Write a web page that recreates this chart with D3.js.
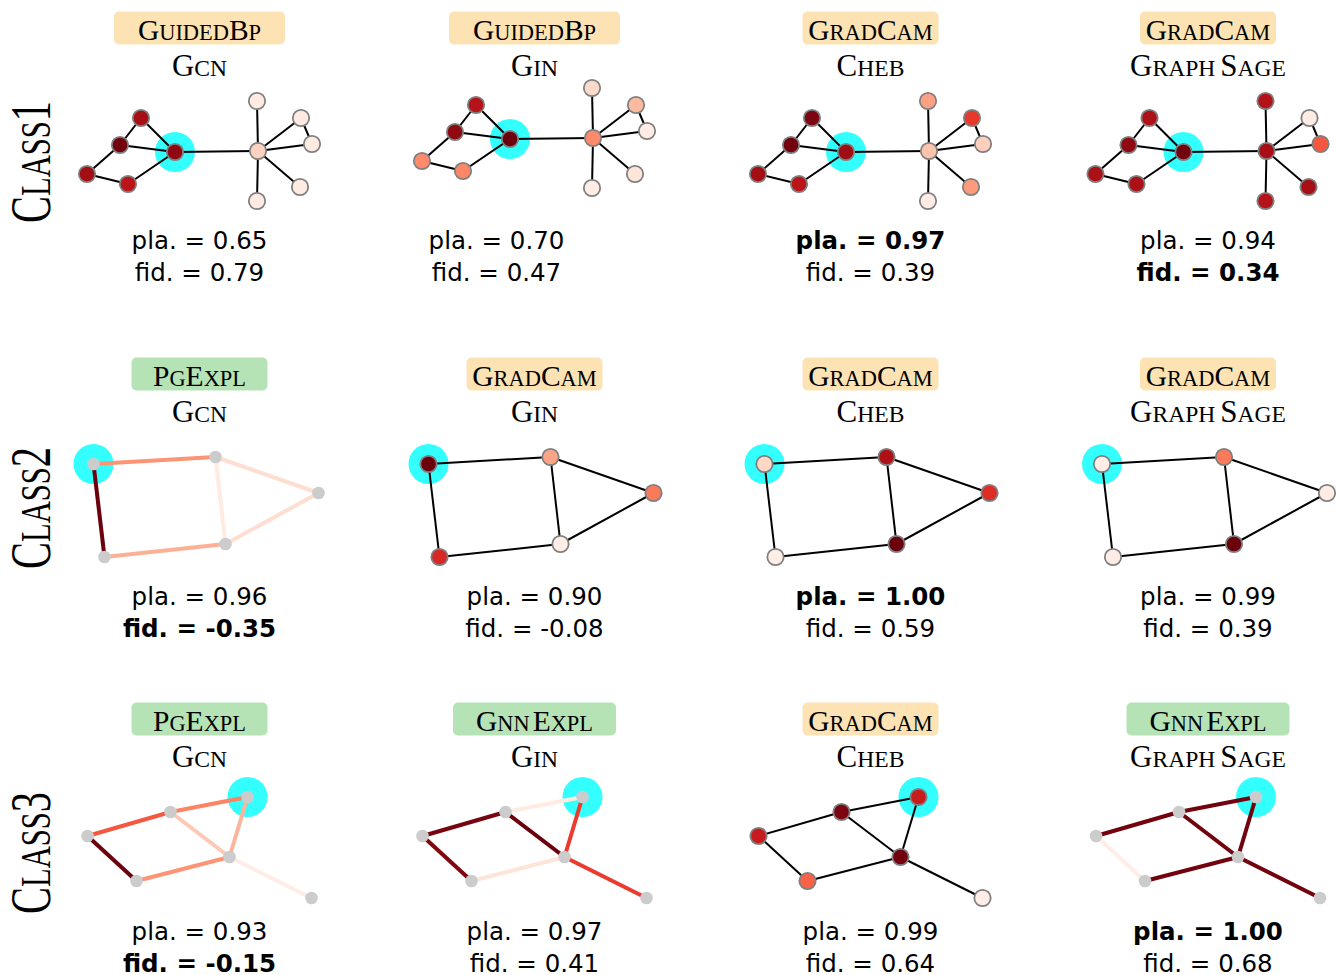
<!DOCTYPE html>
<html lang="en">
<head>
<meta charset="UTF-8">
<title>Explanations per class</title>
<script src="https://cdn.jsdelivr.net/npm/d3@7"></script>
<style>
  body { margin: 0; background: #fff; }
</style>
</head>
<body>
<svg id="chart"></svg>
<script>
var width = 1337, height = 975;

// grid labels
var classNames = ["Class1", "Class2", "Class3"];
var modelNames = ["Gcn", "Gin", "Cheb", "GraphSage"];
var explainers = [
  ["GuidedBp", "GuidedBp", "GradCam", "GradCam"],
  ["PgExpl", "GradCam", "GradCam", "GradCam"],
  ["PgExpl", "GnnExpl", "GradCam", "GnnExpl"]
];
var plausibility = [
  [0.65, 0.70, 0.97, 0.94],
  [0.96, 0.90, 1.00, 0.99],
  [0.93, 0.97, 0.99, 1.00]
];
var fidelity = [
  [0.79, 0.47, 0.39, 0.34],
  [-0.35, -0.08, 0.59, 0.39],
  [-0.15, 0.41, 0.64, 0.68]
];

// class 1 graph (layout units)
var class1Nodes = ["a", "b", "c", "d", "e", "h", "t", "r1", "r2", "r3", "u"];
var class1X = [88, 54, 33, 0, 41, 171, 170, 214, 225, 213, 170];
var class1Y = [51, 17, 44, 73, 83, 50, 0, 17, 43, 86, 100];
var class1Edges = [["b", "a"], ["b", "c"], ["c", "a"], ["c", "d"], ["d", "e"], ["e", "a"],
  ["a", "h"], ["h", "t"], ["h", "r1"], ["h", "r2"], ["r1", "r2"], ["h", "r3"], ["h", "u"]];
var class1Target = "a";
var class1NodeMask = [
  [0.92, 0.86, 0.98, 0.87, 0.80, 0.17, 0.06, 0.06, 0.06, 0.06, 0.06],
  [0.99, 0.82, 0.92, 0.40, 0.41, 0.40, 0.14, 0.25, 0.05, 0.09, 0.05],
  [0.88, 0.96, 0.98, 0.87, 0.80, 0.22, 0.33, 0.64, 0.18, 0.35, 0.05],
  [0.98, 0.84, 0.92, 0.85, 0.85, 0.86, 0.83, 0.05, 0.55, 0.86, 0.82]
];
var class1EdgeMask = [null, null, null, null];

// class 2 graph
var class2Nodes = ["p1", "p2", "p3", "p4", "p5"];
var class2X = [0, 122, 225, 132, 11];
var class2Y = [7, 0, 36, 87, 100];
var class2Edges = [["p1", "p2"], ["p1", "p5"], ["p2", "p4"], ["p2", "p3"], ["p3", "p4"], ["p4", "p5"]];
var class2Target = "p1";
var class2NodeMask = [
  null,
  [0.99, 0.32, 0.45, 0.04, 0.70],
  [0.15, 0.84, 0.68, 0.99, 0.04],
  [0.04, 0.45, 0.05, 0.99, 0.05]
];
var class2EdgeMask = [
  [0.37, 0.99, 0.06, 0.12, 0.12, 0.28],
  null, null, null
];

// class 3 graph
var class3Nodes = ["q1", "q2", "q3", "q4", "q5", "q6"];
var class3X = [160, 83, 0, 49, 142, 224];
var class3Y = [0, 15, 39, 84, 60, 101];
var class3Edges = [["q3", "q2"], ["q2", "q1"], ["q1", "q5"], ["q2", "q5"], ["q3", "q4"], ["q4", "q5"], ["q5", "q6"]];
var class3Target = "q1";
var class3NodeMask = [null, null, [0.76, 0.96, 0.76, 0.52, 0.98, 0.04], null];
var class3EdgeMask = [
  [0.55, 0.42, 0.27, 0.20, 0.99, 0.37, 0.05],
  [0.97, 0.06, 0.63, 0.99, 0.95, 0.09, 0.63],
  null,
  [0.98, 0.98, 0.98, 0.98, 0.04, 0.98, 0.98]
];

var graphs = [
  {nodes: class1Nodes, x: class1X, y: class1Y, edges: class1Edges, target: class1Target, nodeMask: class1NodeMask, edgeMask: class1EdgeMask},
  {nodes: class2Nodes, x: class2X, y: class2Y, edges: class2Edges, target: class2Target, nodeMask: class2NodeMask, edgeMask: class2EdgeMask},
  {nodes: class3Nodes, x: class3X, y: class3Y, edges: class3Edges, target: class3Target, nodeMask: class3NodeMask, edgeMask: class3EdgeMask}
];

// layout
var colCenter = [199.5, 534.5, 870.5, 1208];
var rowTop = [0, 346, 691];
var graphDx = [0, 6.5, 0.5];
var graphDy = [101, 111, 106];
var plaBase = [249, 259, 249];
var lineGap = 32;
var boxColor = {GuidedBp: "#fde3b3", GradCam: "#fde3b3", PgExpl: "#b6e3b6", GnnExpl: "#b6e3b6"};
var boxWidth = {GuidedBp: 171, GradCam: 136, PgExpl: 136, GnnExpl: 163};
var capsGap = {GraphSage: 5, GnnExpl: 3};

var serif = "'Liberation Serif', 'Times New Roman', serif";
var sans = "'DejaVu Sans', sans-serif";
var color = d3.scaleSequential(d3.interpolateReds).domain([0, 1]);

var svg = d3.select("#chart").attr("width", width).attr("height", height);

// small caps: lower-case runs drawn as reduced capitals
function smallCaps(text, str, size, ratio) {
  var runs = str.match(/[a-z]+|[^a-z]+/g);
  runs.forEach(function (run, i) {
    var lower = /[a-z]/.test(run[0]);
    var t = text.append("tspan")
      .attr("font-size", lower ? size * ratio : size)
      .text(run.toUpperCase());
    if (!lower && i > 0 && capsGap[str]) t.attr("dx", capsGap[str]);
  });
}

// row labels
classNames.forEach(function (name, r) {
  var t = svg.append("text")
    .attr("transform", "translate(50," + (rowTop[r] + 162) + ") rotate(-90) scale(0.72,1)")
    .attr("text-anchor", "middle")
    .attr("font-family", serif);
  smallCaps(t, name, 56, 0.76);
});

var bestPla = plausibility.map(function (row) { return d3.max(row); });
var bestFid = fidelity.map(function (row) { return d3.min(row); });

graphs.forEach(function (g, r) {
  modelNames.forEach(function (model, c) {
    var cx = colCenter[c];
    var top = rowTop[r];
    var method = explainers[r][c];
    var shiftY = (r === 0 && c === 1) ? -13 : 0;
    var textX = (r === 0 && c === 1) ? cx - 38 : cx;

    var panel = svg.append("g");

    // explainer label
    panel.append("rect")
      .attr("x", cx - boxWidth[method] / 2)
      .attr("y", top + 11.5)
      .attr("width", boxWidth[method])
      .attr("height", 33)
      .attr("rx", 5)
      .attr("fill", boxColor[method]);
    var mt = panel.append("text")
      .attr("x", cx).attr("y", top + 39.5)
      .attr("text-anchor", "middle")
      .attr("font-family", serif);
    smallCaps(mt, method, 29.5, 0.76);

    var md = panel.append("text")
      .attr("x", cx).attr("y", top + 76)
      .attr("text-anchor", "middle")
      .attr("font-family", serif);
    smallCaps(md, model, 31, 0.76);

    // graph
    var x0 = cx - 112.5 + graphDx[r];
    var y0 = top + graphDy[r] + shiftY;
    var xs = d3.scaleLinear().domain([0, 225]).range([x0, x0 + 225]);
    var ys = d3.scaleLinear().domain([0, 100]).range([y0, y0 + 100]);
    var idx = {};
    g.nodes.forEach(function (n, i) { idx[n] = i; });

    var nodeMask = g.nodeMask[c];
    var edgeMask = g.edgeMask[c];
    var ti = idx[g.target];

    panel.append("circle")
      .attr("cx", xs(g.x[ti])).attr("cy", ys(g.y[ti]))
      .attr("r", 20)
      .attr("fill", "#33ffff");

    panel.selectAll("line.edge")
      .data(g.edges)
      .enter().append("line")
      .attr("class", "edge")
      .attr("x1", function (e) { return xs(g.x[idx[e[0]]]); })
      .attr("y1", function (e) { return ys(g.y[idx[e[0]]]); })
      .attr("x2", function (e) { return xs(g.x[idx[e[1]]]); })
      .attr("y2", function (e) { return ys(g.y[idx[e[1]]]); })
      .attr("stroke", function (e, i) { return edgeMask ? color(edgeMask[i]) : "#000"; })
      .attr("stroke-width", edgeMask ? 4 : 2);

    panel.selectAll("circle.node")
      .data(g.nodes)
      .enter().append("circle")
      .attr("class", "node")
      .attr("cx", function (n, i) { return xs(g.x[i]); })
      .attr("cy", function (n, i) { return ys(g.y[i]); })
      .attr("r", nodeMask ? 8.2 : 6.3)
      .attr("fill", function (n, i) { return nodeMask ? color(nodeMask[i]) : "#cccccc"; })
      .attr("stroke", nodeMask ? "#808080" : "none")
      .attr("stroke-width", 1.8);

    // scores
    var pla = plausibility[r][c], fid = fidelity[r][c];
    panel.append("text")
      .attr("x", textX).attr("y", top + plaBase[r])
      .attr("text-anchor", "middle")
      .attr("font-family", sans)
      .attr("font-size", 24.5)
      .attr("font-weight", pla === bestPla[r] ? "bold" : "normal")
      .text("pla. = " + pla.toFixed(2));
    panel.append("text")
      .attr("x", textX).attr("y", top + plaBase[r] + lineGap)
      .attr("text-anchor", "middle")
      .attr("font-family", sans)
      .attr("font-size", 24.5)
      .attr("font-weight", fid === bestFid[r] ? "bold" : "normal")
      .text("fid. = " + fid.toFixed(2));
  });
});
</script>
</body>
</html>
